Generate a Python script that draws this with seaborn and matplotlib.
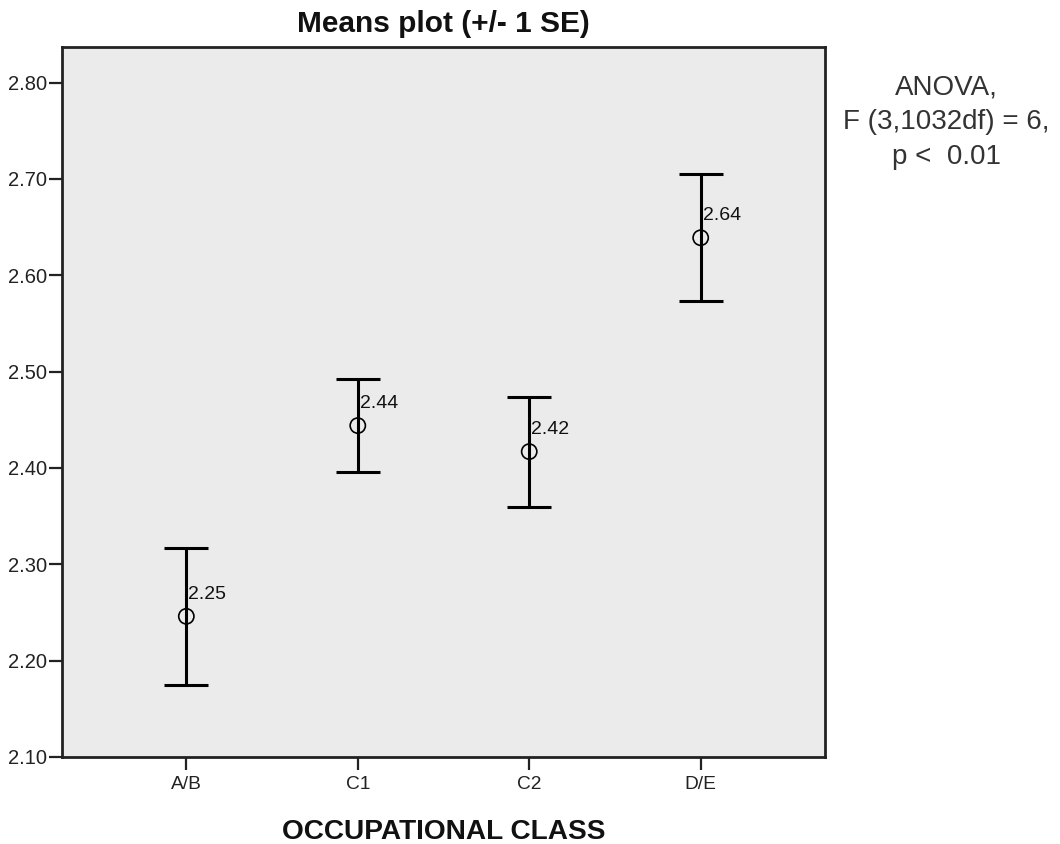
import matplotlib
matplotlib.use("Agg")
import matplotlib.pyplot as plt
import numpy as np
import pandas as pd
import seaborn as sns

# Mean score and standard error by occupational class
classes = ["A/B", "C1", "C2", "D/E"]
means = [2.246, 2.444, 2.417, 2.639]
std_errors = [0.071, 0.048, 0.057, 0.066]

y_ticks = [2.10, 2.20, 2.30, 2.40, 2.50, 2.60, 2.70, 2.80]

sns.set_theme(style="white")
plt.rcParams["font.family"] = ["Liberation Sans", "DejaVu Sans"]

df = pd.DataFrame({"cls": classes, "mean": means, "se": std_errors})

fig = plt.figure(figsize=(10.6, 8.44), dpi=100)
ax = fig.add_axes([0.0585, 0.1031, 0.7198, 0.8412])
ax.set_facecolor("#ebebeb")

# +/- 1 SE bars
ax.errorbar(df["cls"], df["mean"], yerr=df["se"], fmt="none",
            ecolor="black", elinewidth=2.2, capsize=15.5, capthick=2.2,
            zorder=2)

# Means as open circles
sns.scatterplot(data=df, x="cls", y="mean", ax=ax, marker="o", s=120,
                facecolor="none", edgecolor="black", linewidth=1.2,
                zorder=3, legend=False)

for i, m in enumerate(df["mean"]):
    ax.annotate(f"{m:.2f}", xy=(i, m), xytext=(1.5, 16),
                textcoords="offset points", ha="left", va="center",
                fontsize=14, color="#111111")

ax.set_xlim(-0.725, 3.725)
ax.set_ylim(2.10, 2.837)
ax.set_yticks(y_ticks)
ax.set_yticklabels([f"{v:.2f}" for v in y_ticks])

for side in ["left", "right", "top", "bottom"]:
    ax.spines[side].set_visible(True)
    ax.spines[side].set_color("#222222")
    ax.spines[side].set_linewidth(2.0)

ax.tick_params(axis="both", which="major", direction="out", length=9.5,
               width=1.6, color="#222222", left=True, bottom=True)
ax.tick_params(axis="y", labelsize=14.5, labelcolor="#222222", pad=1)
ax.tick_params(axis="x", labelsize=13.8, labelcolor="#222222", pad=4)

ax.set_xlabel("OCCUPATIONAL CLASS", fontsize=20.2, fontweight="bold",
              color="#111111", labelpad=19)
ax.set_ylabel("")
ax.set_title("Means plot (+/- 1 SE)", fontsize=21.5, fontweight="bold",
             color="#111111", pad=11)

fig.text(0.893, 0.855, "ANOVA,\nF (3,1032df) = 6,\np <  0.01",
         ha="center", va="center", fontsize=20, color="#333333",
         linespacing=1.42)

fig.savefig("out.png", dpi=100)
